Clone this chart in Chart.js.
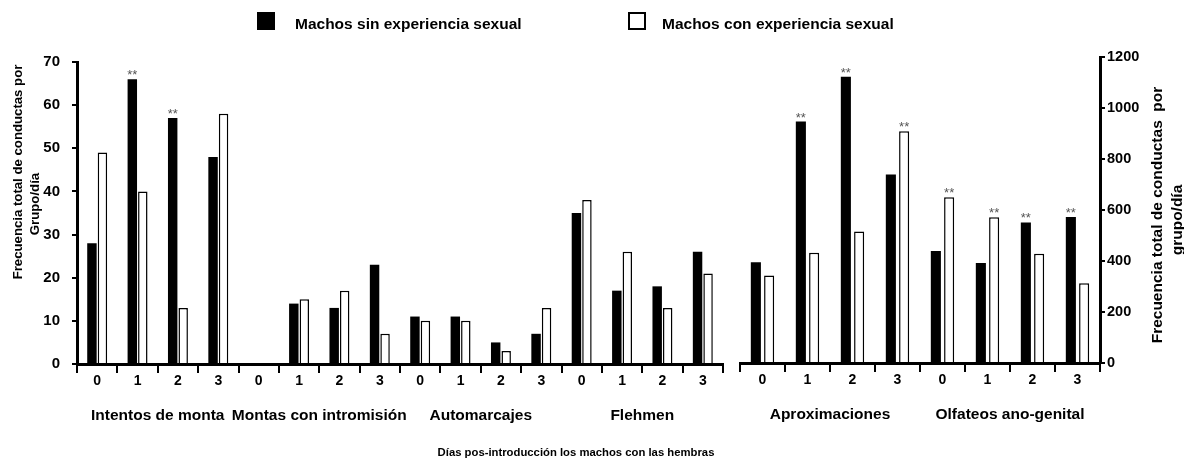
<!DOCTYPE html>
<html lang="es">
<head>
<meta charset="utf-8">
<title>Conductas de machos según experiencia sexual</title>
<script src="https://cdn.jsdelivr.net/npm/chart.js@4.4.1/dist/chart.umd.min.js"></script>
<style>
  body { margin: 0; background: #fff; }
  #figura { position: relative; width: 1184px; height: 459px; overflow: hidden; font-family: "Liberation Sans", Arial, sans-serif; }
  canvas { position: absolute; top: 0; }
  #graficoIzq { left: 0; }
  #graficoDer { left: 730px; }
  .txt { position: absolute; font-weight: bold; color: #000; white-space: pre; }
  .rot { transform: translate(-50%, -50%) rotate(-90deg); }
  .caja { position: absolute; width: 18px; height: 18px; box-sizing: border-box; }
</style>
</head>
<body>
<div id="figura">
  <canvas id="graficoIzq" width="740" height="459"></canvas>
  <canvas id="graficoDer" width="454" height="459"></canvas>

  <!-- leyenda -->
  <div class="caja" style="left:257px; top:12px; background:#000;"></div>
  <div class="txt" style="left:295px; top:15px; font-size:15.5px; line-height:18px;">Machos sin experiencia sexual</div>
  <div class="caja" style="left:628px; top:12px; background:#fff; border:2px solid #000;"></div>
  <div class="txt" style="left:662px; top:15px; font-size:15.5px; line-height:18px;">Machos con experiencia sexual</div>

  <!-- títulos de los ejes -->
  <div class="txt rot" style="left:17px; top:172px; font-size:13.2px;">Frecuencia total de conductas por</div>
  <div class="txt rot" style="left:34px; top:204px; font-size:13.2px;">Grupo/día</div>
  <div class="txt rot" style="left:1157px; top:215px; font-size:15.5px;">Frecuencia total de conductas  por</div>
  <div class="txt rot" style="left:1177px; top:220px; font-size:15.5px;">grupo/día</div>
  <div class="txt" style="left:576px; top:446px; font-size:11.3px; line-height:13px; transform:translateX(-50%);">Días pos-introducción los machos con las hembras</div>
</div>

<script>
// días de observación y conductas
const dias = ['0', '1', '2', '3'];
const gruposIzq = ['Intentos de monta', 'Montas con intromisión', 'Automarcajes', 'Flehmen'];
const gruposDer = ['Aproximaciones', 'Olfateos ano-genital'];

// panel izquierdo (eje 0-70)
const sinExpIzq = [28, 66, 57, 48, 0, 14, 13, 23, 11, 11, 5, 7, 35, 17, 18, 26];
const conExpIzq = [49, 40, 13, 58, 0, 15, 17, 7, 10, 10, 3, 13, 38, 26, 13, 21];
const marcaSinIzq = [0, 1, 1, 0, 0, 0, 0, 0, 0, 0, 0, 0, 0, 0, 0, 0];
const marcaConIzq = [0, 0, 0, 0, 0, 0, 0, 0, 0, 0, 0, 0, 0, 0, 0, 0];

// panel derecho (eje 0-1200)
const sinExpDer = [395, 947, 1123, 739, 439, 392, 551, 573];
const conExpDer = [343, 432, 516, 909, 650, 572, 428, 313];
const marcaSinDer = [0, 1, 1, 0, 0, 0, 1, 1];
const marcaConDer = [0, 0, 0, 1, 1, 1, 0, 0];

const ejeIzq = [0, 70, 10];
const ejeDer = [0, 1200, 200];

const series = ['Machos sin experiencia sexual', 'Machos con experiencia sexual'];

Chart.defaults.font.family = '"Liberation Sans", Arial, sans-serif';
Chart.defaults.color = '#000';

// "**" sobre las barras con diferencia significativa
const asteriscos = {
    id: 'asteriscos',
    afterDatasetsDraw(chart, args, opts) {
        const ctx = chart.ctx;
        ctx.save();
        ctx.font = '13px "Liberation Sans", Arial, sans-serif';
        ctx.fillStyle = '#555';
        ctx.textAlign = 'center';
        ctx.textBaseline = 'alphabetic';
        opts.marcas.forEach((serie, i) => {
            const meta = chart.getDatasetMeta(i);
            serie.forEach((m, j) => {
                if (!m) return;
                const barra = meta.data[j];
                ctx.fillText('**', barra.x, barra.y);
            });
        });
        ctx.restore();
    }
};

function barras(sin, con, cat, bar) {
    return [
        { label: series[0], data: sin, backgroundColor: '#000', borderWidth: 0, categoryPercentage: cat, barPercentage: bar },
        { label: series[1], data: con, backgroundColor: '#fff', borderColor: '#000', borderWidth: 1.5, categoryPercentage: cat, barPercentage: bar }
    ];
}

function ejesX(grupos) {
    return {
        x: {
            weight: 0,
            ticks: { padding: 0, maxRotation: 0, autoSkip: false, font: { size: 14, weight: 'bold' } },
            grid: { drawOnChartArea: false, tickLength: 9, color: '#000', lineWidth: 2, offset: true },
            border: { color: '#000', width: 3 },
            afterFit(s) { s.height = 30; }
        },
        x2: {
            type: 'category',
            labels: grupos,
            offset: true,
            weight: 1,
            ticks: { padding: 4, maxRotation: 0, minRotation: 0, autoSkip: false, font: { size: 15.5, weight: 'bold' } },
            grid: { display: false },
            border: { display: false },
            afterFit(s) { s.height = 30; }
        }
    };
}

function ejeY(rango, lado, padding, tam) {
    return {
        position: lado,
        min: rango[0],
        max: rango[1],
        ticks: {
            stepSize: rango[2],
            padding: padding,
            font: { size: tam, weight: 'bold' },
            callback: v => String(v)
        },
        grid: { drawOnChartArea: false, tickLength: 5, color: '#000', lineWidth: 2 },
        border: { color: '#000', width: 3 },
        afterFit(s) { s.width = 45; }
    };
}

new Chart(document.getElementById('graficoIzq'), {
    type: 'bar',
    data: {
        labels: gruposIzq.flatMap(() => dias),
        datasets: barras(sinExpIzq, conExpIzq, 0.52, 0.9)
    },
    options: {
        responsive: false,
        animation: false,
        layout: { padding: { left: 32, right: 17, top: 62, bottom: 35 } },
        plugins: {
            legend: { display: false },
            tooltip: { enabled: false },
            asteriscos: { marcas: [marcaSinIzq, marcaConIzq] }
        },
        scales: Object.assign(ejesX(gruposIzq), { y: ejeY(ejeIzq, 'left', 12, 15) })
    },
    plugins: [asteriscos]
});

new Chart(document.getElementById('graficoDer'), {
    type: 'bar',
    data: {
        labels: gruposDer.flatMap(() => dias),
        datasets: barras(sinExpDer, conExpDer, 0.59, 0.76)
    },
    options: {
        responsive: false,
        animation: false,
        layout: { padding: { left: 10, right: 39, top: 57, bottom: 36 } },
        plugins: {
            legend: { display: false },
            tooltip: { enabled: false },
            asteriscos: { marcas: [marcaSinDer, marcaConDer] }
        },
        scales: Object.assign(ejesX(gruposDer), { y: ejeY(ejeDer, 'right', 2, 14.5) })
    },
    plugins: [asteriscos]
});
</script>
</body>
</html>
